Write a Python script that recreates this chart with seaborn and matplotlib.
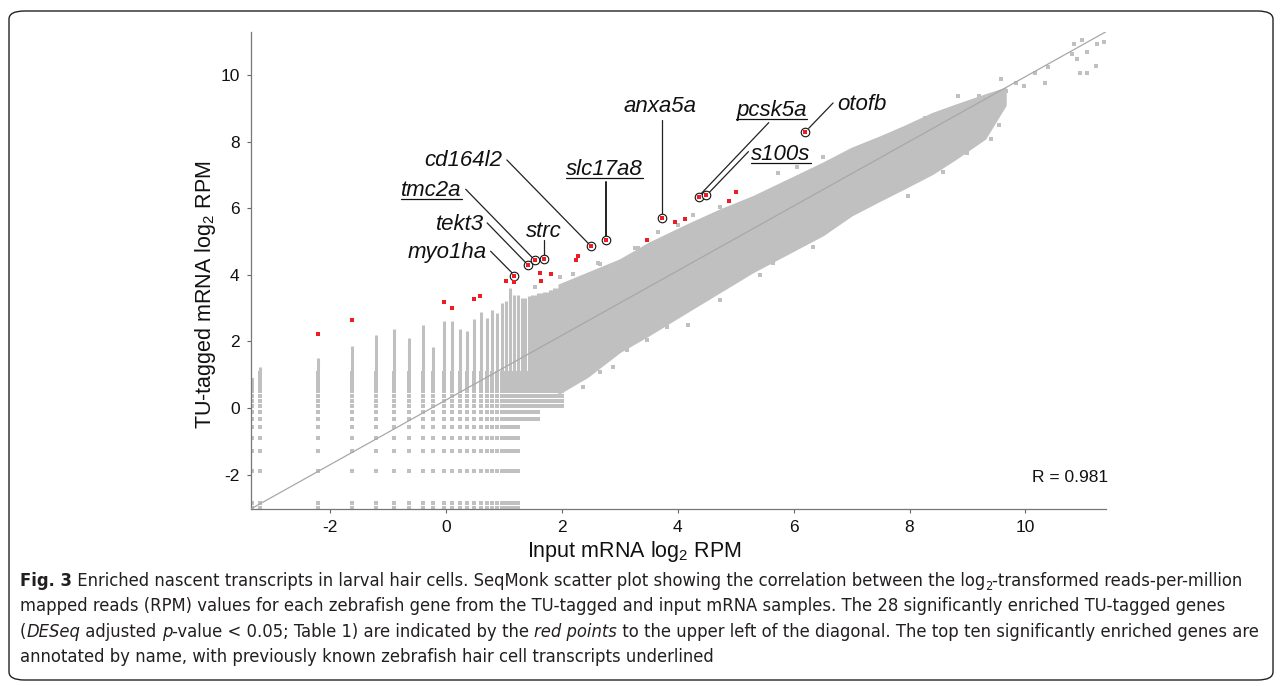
import matplotlib
matplotlib.use('Agg')
import numpy as np
import pandas as pd
import seaborn as sns
import matplotlib.pyplot as plt
from matplotlib.patches import FancyBboxPatch
from matplotlib.lines import Line2D
from matplotlib.font_manager import FontProperties

# ---- data (log2 RPM) ----
# low-count region: discrete columns (input) and rows (TU-tagged)
col_x = [-3.34, -3.21, -2.2, -1.63, -1.2, -0.89, -0.63, -0.4, -0.22, -0.04, 0.11, 0.25,
         0.37, 0.48, 0.6, 0.7, 0.79, 0.88, 0.96, 1.04, 1.11, 1.18, 1.25,
         1.31, 1.37, 1.43, 1.49, 1.54, 1.59, 1.64, 1.69, 1.74, 1.79, 1.83, 1.87, 1.92, 1.96, 2.0]
col_bottom = [-3.0] * 23 + [-0.32] * 6 + [0.06] * 9
col_top = [0.89, 1.23, 1.49, 1.85, 2.18, 2.36, 2.1, 2.48, 1.82, 2.6, 2.6, 2.36,
           2.3, 2.66, 2.88, 2.7, 2.95, 2.85, 3.14, 3.2, 3.6, 3.4, 3.4,
           3.3, 3.3, 3.35, 3.4, 3.4, 3.45, 3.45, 3.5, 3.5, 3.55, 3.55, 3.6, 3.6, 3.65, 3.7]
row_levels = [-3.0, -2.86, -1.88, -1.3, -0.9, -0.56, -0.32, -0.12, 0.06, 0.22, 0.37,
              0.5, 0.62, 0.74, 0.85, 0.95, 1.04]

# dense part of the cloud
cloud_x = [1.95, 2.44, 3.0, 3.5, 4.16, 4.73, 5.3, 5.9, 6.5, 7.0, 7.5, 7.9, 8.4, 8.8, 9.3, 9.65]
cloud_hi = [3.7, 4.05, 4.45, 4.95, 5.5, 5.95, 6.35, 6.85, 7.35, 7.8, 8.15, 8.45, 8.85, 9.1, 9.4, 9.6]
cloud_lo = [0.45, 0.95, 1.7, 2.2, 2.9, 3.5, 4.1, 4.65, 5.2, 5.8, 6.25, 6.6, 7.05, 7.5, 8.1, 9.1]

# scattered gray genes outside the dense part
out_x = [3.27, 2.66, 1.97, 2.2, 5.73, 6.51, 4.27, 6.06, 4.73, 3.32, 3.66, 4.0, 2.63, 1.54,
         4.18, 4.53, 4.94, 6.34, 2.89, 2.37, 3.13, 3.47, 3.82, 4.73, 5.42, 5.65, 2.66,
         7.97, 8.58, 8.99, 9.28, 9.4, 9.49, 9.54, 9.58, 9.66, 9.84, 9.98, 10.16, 10.34,
         10.39, 8.26, 8.84, 9.2, 10.8, 10.83, 10.89, 10.94, 10.97, 11.06, 11.06, 11.22,
         11.23, 11.35]
out_y = [4.8, 4.32, 3.95, 4.03, 7.06, 7.54, 5.79, 7.23, 6.04, 4.8, 5.29, 5.5, 4.35, 3.63,
         2.48, 3.29, 3.8, 4.83, 1.22, 0.62, 1.74, 2.03, 2.43, 3.25, 4.0, 4.35, 1.08,
         6.37, 7.08, 7.67, 8.4, 8.09, 8.9, 8.5, 9.88, 9.52, 9.77, 9.67, 10.07, 9.77,
         10.23, 8.7, 9.37, 9.37, 10.63, 10.92, 10.48, 10.07, 11.05, 10.69, 10.07, 10.27,
         10.94, 10.98]

# significantly enriched genes (red), not named
red_x = [-2.2, -1.63, -0.04, 0.11, 0.49, 0.59, 1.04, 1.18, 1.63, 1.64, 1.82, 2.25, 2.28,
         3.47, 3.96, 4.12, 4.89, 5.0]
red_y = [2.21, 2.65, 3.19, 2.99, 3.28, 3.35, 3.83, 3.78, 4.07, 3.83, 4.02, 4.46, 4.57,
         5.04, 5.59, 5.69, 6.21, 6.48]

# top ten, named
top_genes = ['myo1ha', 'tekt3', 'tmc2a', 'strc', 'cd164l2', 'slc17a8', 'anxa5a',
             'pcsk5a', 's100s', 'otofb']
top_x = [1.18, 1.42, 1.53, 1.69, 2.51, 2.76, 3.73, 4.37, 4.49, 6.2]
top_y = [3.98, 4.29, 4.44, 4.47, 4.87, 5.04, 5.71, 6.34, 6.39, 8.29]
known = [False, False, True, False, False, True, False, True, True, False]
label_x = [0.70, 0.65, -0.25, 1.69, 0.97, 2.73, 3.70, 5.62, 5.78, 6.75]
label_y = [4.51, 5.35, 6.37, 5.14, 7.28, 7.00, 8.90, 8.77, 7.45, 8.95]
label_ha = ['right', 'right', 'center', 'center', 'right', 'center', 'center',
            'center', 'center', 'left']
lead_x0 = [0.77, 0.71, 0.34, 1.69, 1.05, 2.76, 3.73, 5.57, 5.22, 6.68]
lead_y0 = [4.71, 5.56, 6.57, 5.05, 7.45, 6.80, 8.65, 8.57, 7.70, 9.16]
lead_x1 = [1.14, 1.38, 1.50, 1.69, 2.47, 2.76, 3.73, 4.41, 4.53, 6.26]
lead_y1 = [4.06, 4.36, 4.50, 4.60, 4.92, 5.14, 5.85, 6.45, 6.45, 8.40]

r_value = 0.981

caption_lines = [
    [("Fig. 3", 'bold'), (" Enriched nascent transcripts in larval hair cells. SeqMonk scatter plot "
                          "showing the correlation between the log", 'n'), ("2", 'sub'),
     ("-transformed reads-per-million", 'n')],
    [("mapped reads (RPM) values for each zebrafish gene from the TU-tagged and input mRNA "
      "samples. The 28 significantly enriched TU-tagged genes", 'n')],
    [("(", 'n'), ("DESeq", 'it'), (" adjusted ", 'n'), ("p", 'it'),
     ("-value < 0.05; Table 1) are indicated by the ", 'n'), ("red points", 'it'),
     (" to the upper left of the diagonal. The top ten significantly enriched genes are", 'n')],
    [("annotated by name, with previously known zebrafish hair cell transcripts underlined", 'n')],
]

# ---- style ----
W, H = 1282, 686
sns.set_theme(style='ticks')
plt.rcParams['font.family'] = ['Liberation Sans', 'DejaVu Sans']
plt.rcParams['axes.unicode_minus'] = False
plt.rcParams['mathtext.fontset'] = 'custom'
plt.rcParams['mathtext.rm'] = 'Liberation Sans'
plt.rcParams['mathtext.it'] = 'Liberation Sans:italic'
CAP_FONT = ['DejaVu Sans']
CAP_COLOR = '#231f20'
GRAY = '#c0c0c0'
XMIN, XMAX, YMIN, YMAX = -3.37, 11.39, -3.03, 11.3


def px(x, y):
    return x / W, 1 - y / H


fig = plt.figure(figsize=(W / 100, H / 100), dpi=100)
ax = fig.add_axes([250.7 / W, 1 - 509 / H, (1106 - 250.7) / W, (509 - 31.7) / H])

# grid of low-count genes
pts = []
for x, lo, hi in zip(col_x, col_bottom, col_top):
    for r in row_levels:
        if lo <= r <= hi:
            pts.append((x, r))
grid = pd.DataFrame(pts, columns=['input', 'tagged'])
sns.scatterplot(data=grid, x='input', y='tagged', ax=ax, color=GRAY, marker='s', s=5,
                linewidth=0, zorder=2)
solid = [(x, max(lo, 1.04), hi) for x, lo, hi in zip(col_x, col_bottom, col_top) if hi > 1.04]
ax.vlines([s[0] for s in solid], [s[1] for s in solid], [s[2] for s in solid],
          color=GRAY, lw=2.2, zorder=2)

ax.fill_between(cloud_x, cloud_lo, cloud_hi, color=GRAY, lw=1.5, ec=GRAY, zorder=2)
sns.scatterplot(x=out_x, y=out_y, ax=ax, color=GRAY, marker='s', s=6, linewidth=0, zorder=2)

# diagonal, corner to corner of the plot area
ax.plot([XMIN, XMAX], [YMIN, YMAX], color='#a8a8a8', lw=0.9, zorder=3)

# enriched genes
sns.scatterplot(x=top_x, y=top_y, ax=ax, marker='o', s=38, facecolor='white',
                edgecolor='#111111', linewidth=0.8, zorder=5)
sns.scatterplot(x=red_x + top_x, y=red_y + top_y, ax=ax, color='#ee1c24', marker='s', s=8,
                linewidth=0, zorder=6)

for i in range(len(top_genes)):
    ax.plot([lead_x0[i], lead_x1[i]], [lead_y0[i], lead_y1[i]], color='#222222',
            lw=1.4 if top_genes[i] == 'slc17a8' else 0.9, zorder=4)
    ax.text(label_x[i], label_y[i], top_genes[i], ha=label_ha[i], va='baseline',
            fontsize=16, fontstyle='italic', color='#111111', zorder=7)

ax.text(1.002, 0.067, 'R = %.3f' % r_value, transform=ax.transAxes, ha='right', va='center',
        fontsize=12.5, color='#111111')

ax.set_xlim(XMIN, XMAX)
ax.set_ylim(YMIN, YMAX)
ax.set_xticks([-2, 0, 2, 4, 6, 8, 10])
ax.set_yticks([-2, 0, 2, 4, 6, 8, 10])
ax.set_xlabel('')
ax.set_ylabel('')
ax.tick_params(length=3, width=0.8, color='#666666', labelsize=12.5, labelcolor='#111111', pad=5)
for side in ['top', 'right']:
    ax.spines[side].set_visible(False)
for side in ['left', 'bottom']:
    ax.spines[side].set_color('#777777')
    ax.spines[side].set_linewidth(0.9)

fig.text(*px(634, 552), r'Input mRNA log$_{\mathregular{2}}$ RPM', ha='center', va='center',
         fontsize=15.5, color='#111111')
fig.text(*px(205, 295), r'TU-tagged mRNA log$_{\mathregular{2}}$ RPM', ha='center', va='center',
         rotation=90, fontsize=15.5, color='#111111')

# underline known hair-cell transcripts
renderer = fig.canvas.get_renderer()
for t in ax.texts:
    name = t.get_text()
    if name in top_genes and known[top_genes.index(name)]:
        bb = t.get_window_extent(renderer)
        base = ax.transData.transform((0, label_y[top_genes.index(name)]))[1] - 3
        fig.add_artist(Line2D([bb.x0 / W, bb.x1 / W], [base / H, base / H], color='#111111',
                              lw=0.9, transform=fig.transFigure))


# caption, drawn run by run
def run_width(txt, prop):
    w1 = renderer.get_text_width_height_descent('x' + txt + 'x', prop, ismath=False)[0]
    w0 = renderer.get_text_width_height_descent('xx', prop, ismath=False)[0]
    return w1 - w0


def run_prop(kind, size):
    return FontProperties(family=CAP_FONT, stretch='condensed',
                          size=size * (0.7 if kind == 'sub' else 1.0),
                          weight='bold' if kind == 'bold' else 'normal',
                          style='italic' if kind == 'it' else 'normal')


def line_width(runs, size):
    return sum(run_width(txt, run_prop(k, size)) for txt, k in runs)


base_size = 12
w = max(line_width(caption_lines[0], base_size), line_width(caption_lines[2], base_size))
cap_size = base_size * (1262 - 20) / w

baselines = [586, 611, 637, 662]
for runs, yb in zip(caption_lines, baselines):
    x = 20
    for txt, kind in runs:
        prop = run_prop(kind, cap_size)
        y = yb + (4 if kind == 'sub' else 0)
        fig.text(x / W, 1 - y / H, txt, fontproperties=prop, va='baseline', ha='left',
                 color=CAP_COLOR)
        x += run_width(txt, prop)

# rounded frame around the figure
fig.patches.append(FancyBboxPatch((9 / W, 1 - 680 / H), (1273 - 9) / W, (680 - 11) / H,
                                  boxstyle='round,pad=0,rounding_size=0.012',
                                  transform=fig.transFigure, fill=False, ec='#222222', lw=1.0))

fig.savefig('out.png', dpi=100)
